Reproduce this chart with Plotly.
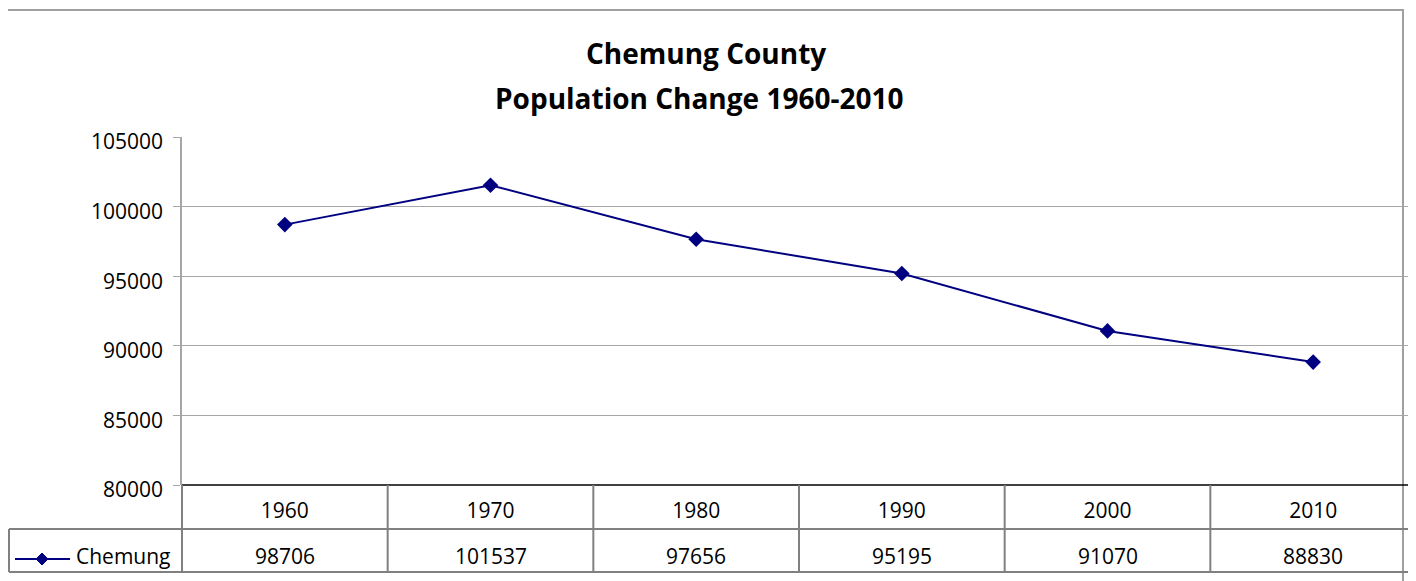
import plotly.graph_objects as go

years = ["1960", "1970", "1980", "1990", "2000", "2010"]
chemung = [98706, 101537, 97656, 95195, 91070, 88830]
series_name = "Chemung"
title_lines = ["Chemung County", "Population Change 1960-2010"]
y_ticks = [80000, 85000, 90000, 95000, 100000, 105000]

# target window coordinates; the page body adds an 8px offset
OFF = 8
WIN_W, WIN_H = 1416, 581
PLOT_L, PLOT_R, PLOT_T, PLOT_B = 182, 1416, 137, 485
FW, FH = WIN_W - OFF, WIN_H - OFF
PW = PLOT_R - PLOT_L
PH = PLOT_B - PLOT_T
FONT = "Open Sans"
NAVY = "#000080"
GRID = "#a6a6a6"
CELL = "#808080"


def px(xp):
    return (xp - PLOT_L) / PW


def py(yp):
    return (PLOT_B - yp) / PH


xs = list(range(len(years)))

fig = go.Figure()
fig.add_trace(go.Scatter(
    x=xs, y=chemung, mode="lines+markers", name=series_name,
    line=dict(color=NAVY, width=2),
    marker=dict(symbol="diamond", size=12, color=NAVY),
    showlegend=False,
))

shapes = []
shapes.append(dict(type="rect", xref="paper", yref="paper",
                   x0=px(7), x1=px(1403), y0=py(600), y1=py(10),
                   line=dict(color="#a0a0a0", width=2), layer="below"))
shapes.append(dict(type="line", xref="paper", yref="paper",
                   x0=0, x1=1, y0=0, y1=0, line=dict(color="black", width=1.5)))
for yy in (529, 572):
    shapes.append(dict(type="line", xref="paper", yref="paper",
                       x0=px(9), x1=1, y0=py(yy), y1=py(yy),
                       line=dict(color=CELL, width=2)))
shapes.append(dict(type="line", xref="paper", yref="paper",
                   x0=px(9), x1=px(9), y0=py(529), y1=py(572),
                   line=dict(color=CELL, width=2)))
for i in range(len(years) + 1):
    xv = px(PLOT_L + i * PW / len(years))
    shapes.append(dict(type="line", xref="paper", yref="paper",
                       x0=xv, x1=xv, y0=0, y1=py(572),
                       line=dict(color=CELL, width=2)))
shapes.append(dict(type="line", xref="paper", yref="paper",
                   x0=px(15), x1=px(70), y0=py(559), y1=py(559),
                   line=dict(color=NAVY, width=2)))
cx, cy, d = 42, 559, 6
shapes.append(dict(type="path", xref="paper", yref="paper",
                   path=f"M {px(cx - d)} {py(cy)} L {px(cx)} {py(cy - d)} L {px(cx + d)} {py(cy)} L {px(cx)} {py(cy + d)} Z",
                   fillcolor=NAVY, line=dict(color=NAVY, width=1)))

annotations = []
annotations.append(dict(text="<b>" + title_lines[0] + "</b>", xref="paper", yref="paper",
                        x=px(706), y=py(53), xanchor="center", yanchor="middle", showarrow=False,
                        font=dict(family=FONT, size=28, color="black")))
annotations.append(dict(text="<b>" + title_lines[1] + "</b>", xref="paper", yref="paper",
                        x=px(699), y=py(98), xanchor="center", yanchor="middle", showarrow=False,
                        font=dict(family=FONT, size=28, color="black")))
for i, v in enumerate(chemung):
    annotations.append(dict(text=str(v), xref="x", yref="paper", x=i, y=py(556),
                            xanchor="center", yanchor="middle",
                            showarrow=False, font=dict(family=FONT, size=21, color="black")))
annotations.append(dict(text=series_name, xref="paper", yref="paper",
                        x=px(74), y=py(556), xanchor="left", yanchor="middle", showarrow=False,
                        font=dict(family=FONT, size=21, color="black")))

fig.update_layout(
    width=FW, height=FH,
    margin=dict(l=PLOT_L - OFF, r=FW - (PLOT_R - OFF), t=PLOT_T - OFF, b=FH - (PLOT_B - OFF)),
    paper_bgcolor="white", plot_bgcolor="white",
    font=dict(family=FONT, size=21, color="black"),
    shapes=shapes, annotations=annotations,
    showlegend=False,
)
fig.update_xaxes(
    range=[-0.5, len(years) - 0.5], tickvals=xs, ticktext=years,
    showgrid=False, zeroline=False, showline=False, ticks="",
    ticklabelstandoff=11, tickfont=dict(family=FONT, size=21),
)
fig.update_yaxes(
    range=[80000, 105000], tickvals=y_ticks, ticktext=[str(t) for t in y_ticks],
    showgrid=True, gridcolor=GRID, gridwidth=1, zeroline=False,
    showline=True, linecolor=GRID, linewidth=1.5,
    ticks="outside", ticklen=7, tickcolor=GRID,
    ticklabelstandoff=6, ticklabelshift=5, tickfont=dict(family=FONT, size=21),
)

fig.write_html("out.html")
